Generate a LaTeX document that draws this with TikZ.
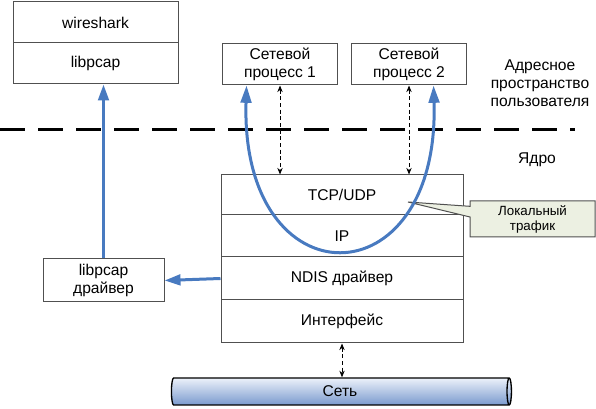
\documentclass[tikz,border=0pt]{standalone}
\usepackage{fontspec}
\setmainfont{Liberation Sans}
\usetikzlibrary{arrows.meta,shapes.geometric,shapes.callouts}
\definecolor{flowblue}{RGB}{72,122,192}
\definecolor{boxline}{RGB}{80,80,80}
\definecolor{notefill}{RGB}{236,240,226}
\definecolor{pipetop}{RGB}{236,241,250}
\definecolor{pipebot}{RGB}{122,154,206}
\tikzset{
  box/.style 2 args={draw=boxline,line width=0.75pt,minimum width={#1*0.75pt},
    minimum height={#2*0.75pt},inner sep=0pt,align=center},
  flowline/.style={draw=flowblue,line width=2.25pt,
    arrows={-Triangle[length=12pt,width=8pt]}},
  flowboth/.style={draw=flowblue,line width=2.25pt,
    arrows={Triangle[length=13pt,width=8pt]-Triangle[length=13pt,width=8pt]}},
  thinlink/.style={line width=0.6pt,dash pattern=on 3pt off 2pt,
    arrows={Stealth[length=5pt,width=4pt]-Stealth[length=5pt,width=4pt]}},
  divider/.style={line width=2.25pt,dash pattern=on 18.75pt off 9.75pt}
}
\begin{document}
\begin{tikzpicture}[x=0.75pt,y=-0.75pt,font=\fontsize{11.7}{13.5}\selectfont]
  \useasboundingbox (0,0) rectangle (596,409);
  % user space
  \node[box={165}{41}] (wire) at (95.5,22.5) {wireshark};
  \node[box={165}{41}] (lib) at (95.5,63.5) {libpcap};
  \node[box={115}{41}] (p1) at (280,64.5) {Сетевой\\процесс 1};
  \node[box={115}{41}] (p2) at (409,64.5) {Сетевой\\процесс 2};
  \node[align=center] (user) at (540,83) {Адресное\\пространство\\пользователя};
  \draw[divider] (0,130) -- (575,130);
  \node (kern) at (537,160) {Ядро};
  % kernel stack
  \node[box={242}{40}] (tcp) at (342,195) {TCP/UDP};
  \node[box={242}{42}] (ip) at (342,236) {IP};
  \node[box={242}{43}] (ndis) at (342,278.5) {NDIS драйвер};
  \node[box={242}{43}] (iface) at (342,321.5) {Интерфейс};
  \node[box={121}{43}] (drv) at (103.5,280.5) {libpcap\\драйвер};
  \node[cylinder,shape border rotate=0,draw=black,line width=1pt,aspect=0.4,
    minimum height=255pt,minimum width=20.25pt,inner sep=0pt,
    top color=pipetop,bottom color=pipebot] (net) at (340,391.5) {Сеть};
  \node[rectangle callout,draw=boxline,fill=notefill,line width=0.75pt,
    minimum width=93.75pt,minimum height=27pt,inner sep=0pt,align=center,
    callout absolute pointer={(408,202)},callout pointer width=8pt,
    font=\fontsize{10}{11.25}\selectfont] (note) at (532.5,219) {Локальный\\трафик};
  % links
  \begin{scope}
    \draw[thinlink] (p1.south) -- (p1.south |- tcp.north);
    \draw[thinlink] (p2.south) -- (p2.south |- tcp.north);
    \draw[thinlink] (iface.south) -- (iface.south |- net.north);
    \draw[flowline] (ndis.west) -- (drv.east);
    \draw[flowline] (drv.north) -- (drv.north |- lib.south);
    \draw[flowboth] ([xshift=18.4pt]p1.south west) .. controls (240,303) and (440,303)
      .. ([xshift=-25.1pt]p2.south east);
  \end{scope}
\end{tikzpicture}
\end{document}
